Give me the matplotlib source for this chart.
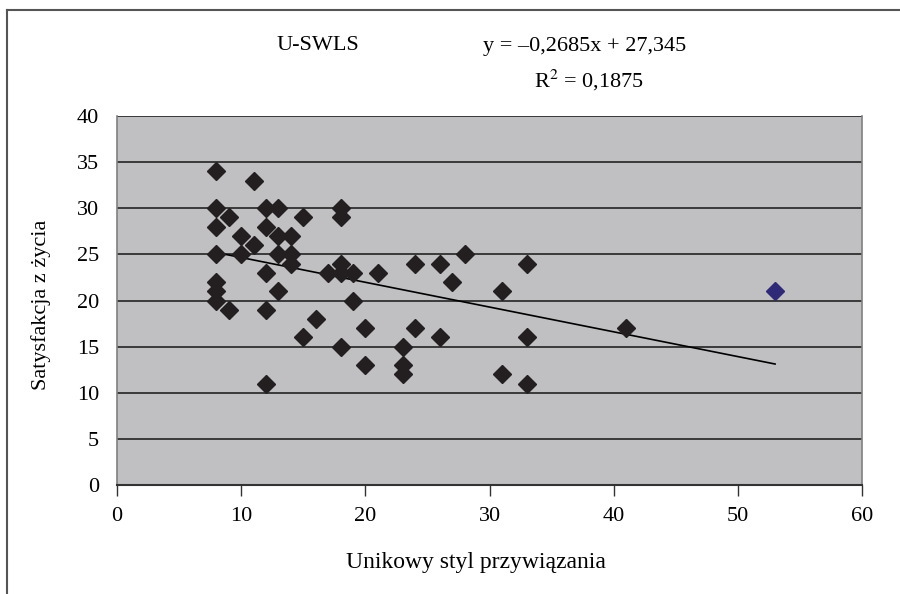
import numpy as np
import matplotlib.pyplot as plt
from matplotlib.lines import Line2D

plt.rcParams['font.family'] = ['Liberation Serif', 'DejaVu Serif']

# styl unikowy (x) vs satysfakcja z zycia (y)
styl_x = [8, 11, 8, 9, 12, 13, 15, 18, 18, 8, 12, 10, 13, 14, 11, 8, 10, 13,
          14, 14, 12, 17, 18, 18, 19, 21, 8, 8, 8, 9, 12, 13, 19, 16, 15, 20,
          18, 20, 12, 24, 26, 28, 33, 27, 31, 24, 26, 33, 23, 23, 23, 31, 33, 41]
swls_y = [34, 33, 30, 29, 30, 30, 29, 30, 29, 28, 28, 27, 27, 27, 26, 25, 25, 25,
          25, 24, 23, 23, 24, 23, 23, 23, 22, 21, 20, 19, 19, 21, 20, 18, 16, 17,
          15, 13, 11, 24, 24, 25, 24, 22, 21, 17, 16, 16, 15, 13, 12, 12, 11, 17]
odst_x = [53]
odst_y = [21]

slope, intercept = -0.2685, 27.345

fig = plt.figure(figsize=(9, 5.94), dpi=100)
ax = fig.add_axes([117 / 900, 1 - 485 / 594, (862 - 117) / 900, (485 - 116) / 594])

ax.set_facecolor('#c0c0c2')
ax.set_xlim(0, 60)
ax.set_ylim(0, 40)
ax.set_yticks(range(0, 41, 5))
ax.set_xticks(range(0, 61, 10))
ax.yaxis.grid(True, color='#3a3a3a', linewidth=1.4)
ax.set_axisbelow(True)

ax.spines['top'].set_visible(False)
ax.spines['left'].set_color('#808080')
ax.spines['right'].set_color('#808080')
ax.spines['bottom'].set_color('#333333')
ax.spines['left'].set_linewidth(1.2)
ax.spines['right'].set_linewidth(1.2)
ax.spines['bottom'].set_linewidth(1.5)

ax.tick_params(axis='y', length=0, pad=13, labelsize=16)
ax.tick_params(axis='x', direction='out', length=8, width=1, color='#333333',
               pad=8, labelsize=16)

xs = np.array([min(styl_x), max(odst_x)])
ax.plot(xs, slope * xs + intercept, color='black', linewidth=1.2, zorder=3)

ax.plot(styl_x, swls_y, 'D', color='#231f20', markersize=9, zorder=4)
ax.plot(odst_x, odst_y, 'D', color='#2e2a78', markersize=9, zorder=4)

ax.set_xlabel('Unikowy styl przywiązania', fontsize=17, va='center')
ax.xaxis.set_label_coords(0.482, -0.211)
ax.set_ylabel('Satysfakcja z życia', fontsize=16, va='center')
ax.yaxis.set_label_coords(-0.102, 0.487)

fig.text(318 / 900, 1 - 45 / 594, 'U-SWLS', fontsize=16, ha='center', va='center')
fig.text(585 / 900, 1 - 46 / 594, 'y = \u20130,2685x + 27,345', fontsize=16,
         ha='center', va='center')
fig.text(589 / 900, 1 - 80 / 594, 'R$^{2}$ = 0,1875', fontsize=16,
         ha='center', va='center', math_fontfamily='stix')

# ramka wykresu
fig.add_artist(Line2D([7 / 900, 7 / 900], [0, 1 - 10 / 594], color='#555555',
                      linewidth=1.5, transform=fig.transFigure))
fig.add_artist(Line2D([7 / 900, 1], [1 - 10 / 594, 1 - 10 / 594], color='#555555',
                      linewidth=1.5, transform=fig.transFigure))

fig.savefig('out.png', dpi=100)
